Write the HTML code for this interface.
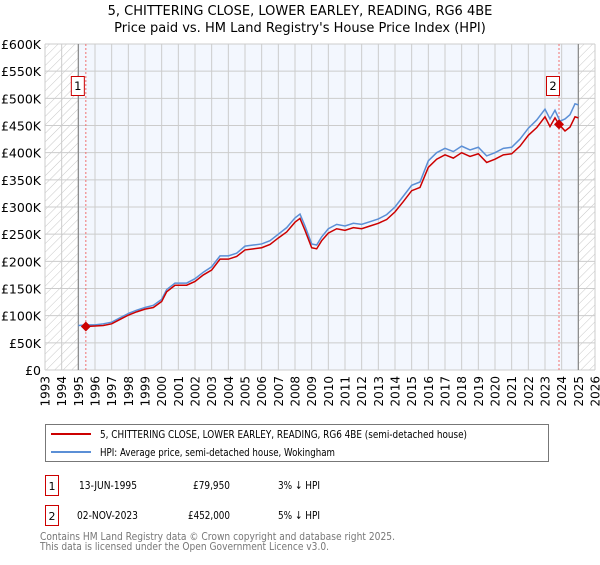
<!DOCTYPE html>
<html><head><meta charset="utf-8"><style>
body{margin:0;background:#fff;font-family:"Liberation Sans","DejaVu Sans",sans-serif;}
svg text{font-family:"DejaVu Sans","Liberation Sans",sans-serif;}
</style></head><body>
<svg id="c" width="600" height="560" xmlns="http://www.w3.org/2000/svg">
<defs><pattern id="hatch" width="6" height="6" patternUnits="userSpaceOnUse" patternTransform="rotate(45)"><line x1="0" y1="0" x2="0" y2="6" stroke="#c8c8c8" stroke-width="1"/></pattern></defs>
<text x="300" y="15" text-anchor="middle" font-size="13">5, CHITTERING CLOSE, LOWER EARLEY, READING, RG6 4BE</text>
<text x="300" y="32" text-anchor="middle" font-size="13">Price paid vs. HM Land Registry's House Price Index (HPI)</text>
<g id="plot"></g>
<g>
<rect x="45.5" y="424.5" width="503" height="37" fill="#fff" stroke="#777"/>
<line x1="51" y1="434" x2="91" y2="434" stroke="#cc0000" stroke-width="2"/>
<text x="100" y="438" font-size="11" textLength="367" lengthAdjust="spacingAndGlyphs">5, CHITTERING CLOSE, LOWER EARLEY, READING, RG6 4BE (semi-detached house)</text>
<line x1="51" y1="452" x2="91" y2="452" stroke="#5b8fd6" stroke-width="2"/>
<text x="100" y="456" font-size="11" textLength="235" lengthAdjust="spacingAndGlyphs">HPI: Average price, semi-detached house, Wokingham</text>
</g>
<g font-size="11">
<rect x="45.5" y="475.5" width="13" height="20" fill="#fff" stroke="#cc0000"/><text x="52" y="490" text-anchor="middle">1</text>
<text x="79" y="489" textLength="58" lengthAdjust="spacingAndGlyphs">13-JUN-1995</text><text x="193" y="489" textLength="37" lengthAdjust="spacingAndGlyphs">£79,950</text><text x="278" y="489" textLength="42" lengthAdjust="spacingAndGlyphs">3% ↓ HPI</text>
<rect x="45.5" y="505.5" width="13" height="20" fill="#fff" stroke="#cc0000"/><text x="52" y="520" text-anchor="middle">2</text>
<text x="77" y="519" textLength="61" lengthAdjust="spacingAndGlyphs">02-NOV-2023</text><text x="188" y="519" textLength="42" lengthAdjust="spacingAndGlyphs">£452,000</text><text x="278" y="519" textLength="42" lengthAdjust="spacingAndGlyphs">5% ↓ HPI</text>
</g>
<text x="40" y="540" font-size="11" fill="#777" textLength="355" lengthAdjust="spacingAndGlyphs">Contains HM Land Registry data © Crown copyright and database right 2025.</text>
<text x="40" y="550" font-size="11" fill="#777" textLength="289" lengthAdjust="spacingAndGlyphs">This data is licensed under the Open Government Licence v3.0.</text>
</svg>
<script>
const yearTicks=[1993,1994,1995,1996,1997,1998,1999,2000,2001,2002,2003,2004,2005,2006,2007,2008,2009,2010,2011,2012,2013,2014,2015,2016,2017,2018,2019,2020,2021,2022,2023,2024,2025,2026];
const priceTicks=[0,50,100,150,200,250,300,350,400,450,500,550,600];
const priceTickLabels=["£0","£50K","£100K","£150K","£200K","£250K","£300K","£350K","£400K","£450K","£500K","£550K","£600K"];
const hpiDates=[1995.0,1995.5,1996,1996.5,1997,1997.5,1998,1998.5,1999,1999.5,2000,2000.3,2000.8,2001.5,2002,2002.5,2003,2003.5,2004,2004.5,2005,2005.5,2006,2006.5,2007,2007.5,2008,2008.3,2008.6,2009,2009.3,2009.6,2010,2010.5,2011,2011.5,2012,2012.5,2013,2013.5,2014,2014.5,2015,2015.5,2016,2016.5,2017,2017.5,2018,2018.5,2019,2019.5,2020,2020.5,2021,2021.5,2022,2022.5,2023,2023.3,2023.6,2023.9,2024.2,2024.5,2024.8,2025.0];
const hpiValues=[82,83,83,85,88,96,104,110,115,119,130,148,160,160,168,180,190,210,210,215,228,230,232,238,250,262,280,287,265,232,230,245,260,268,265,270,268,273,278,286,300,320,340,346,385,400,408,402,412,405,410,394,400,408,410,425,445,460,480,462,478,458,462,470,490,488];
const priceDates=[1995.45,1996,1996.5,1997,1997.5,1998,1998.5,1999,1999.5,2000,2000.3,2000.8,2001.5,2002,2002.5,2003,2003.5,2004,2004.5,2005,2005.5,2006,2006.5,2007,2007.5,2008,2008.3,2008.6,2009,2009.3,2009.6,2010,2010.5,2011,2011.5,2012,2012.5,2013,2013.5,2014,2014.5,2015,2015.5,2016,2016.5,2017,2017.5,2018,2018.5,2019,2019.5,2020,2020.5,2021,2021.5,2022,2022.5,2023,2023.3,2023.6,2023.84,2024.2,2024.5,2024.8,2025.0];
const priceValues=[80,81,82,85,93,101,107,112,115,126,144,156,156,163,175,184,204,204,209,221,223,225,231,243,254,272,279,257,225,223,238,252,260,257,262,260,265,270,277,291,310,330,336,373,388,396,390,400,393,398,382,388,396,398,412,432,446,466,448,464,452,440,447,466,464];
const saleDates=[1995.45,2023.84];
const saleValues=[79.95,452];
const saleLabels=["1","2"];

const NS="http://www.w3.org/2000/svg";
const X0=45,X1=595,Y0=370,Y1=44;
const xs=d=>X0+(d-1993)/(2026-1993)*(X1-X0);
const ys=v=>Y0-v/600*(Y0-Y1);
const g=document.getElementById('plot');
function mk(t,a){const e=document.createElementNS(NS,t);for(const k in a)e.setAttribute(k,a[k]);g.appendChild(e);return e;}
let e=mk('rect',{x:X0,y:Y1,width:X1-X0,height:Y0-Y1,fill:'#f3f7fe'});


e=mk('rect',{x:X0,y:Y1,width:xs(1995)-X0,height:Y0-Y1,fill:'#fff'});


mk('rect',{x:X0,y:Y1,width:xs(1995)-X0,height:Y0-Y1,fill:'url(#hatch)'});
e=mk('rect',{x:xs(2025),y:Y1,width:X1-xs(2025),height:Y0-Y1,fill:'#fff'});


mk('rect',{x:xs(2025),y:Y1,width:X1-xs(2025),height:Y0-Y1,fill:'url(#hatch)'});
yearTicks.forEach(y=>{
  const l=mk('line',{x1:xs(y),x2:xs(y),y1:Y1,y2:Y0,stroke:'#cccccc','stroke-width':1});
  
  
  const t=mk('text',{x:0,y:0,'font-size':12,'text-anchor':'end',transform:`translate(${xs(y)+4.5},${Y0+6}) rotate(-90)`});
  t.textContent=y;
  
  
});
priceTicks.forEach((v,i)=>{
  const l=mk('line',{x1:X0,x2:X1,y1:ys(v),y2:ys(v),stroke:'#cccccc','stroke-width':1});
  
  
  const t=mk('text',{x:41,y:ys(v)+5,'font-size':12.5,'text-anchor':'end'});
  t.textContent=priceTickLabels[i];
  
  
});
[1995,2025].forEach(y=>{mk('line',{x1:xs(y),x2:xs(y),y1:Y1,y2:Y0,stroke:'#888','stroke-width':1.2});});
saleDates.forEach((d,i)=>{
  const l=mk('line',{x1:xs(d),x2:xs(d),y1:Y1,y2:Y0,stroke:'#f07070','stroke-width':1,'stroke-dasharray':'2,2'});
  
  
});
const hp=mk('polyline',{points:hpiDates.map((d,i)=>xs(d)+','+ys(hpiValues[i])).join(' '),fill:'none',stroke:'#5b8fd6','stroke-width':1.5});


const pp=mk('polyline',{points:priceDates.map((d,i)=>xs(d)+','+ys(priceValues[i])).join(' '),fill:'none',stroke:'#cc0000','stroke-width':1.5});


saleDates.forEach((d,i)=>{
  const x=xs(d),y=ys(saleValues[i]);
  const m=mk('polygon',{points:`${x},${y-5} ${x+5},${y} ${x},${y+5} ${x-5},${y}`,fill:'#cc0000'});
  
  
  const bx=x-(i==0?8:6)-7;
  const b=mk('rect',{x:bx+0.5,y:76.5,width:13,height:19,fill:'#fff',stroke:'#cc0000'});
  
  
  const t=mk('text',{x:bx+7,y:90,'font-size':11.5,'text-anchor':'middle'});
  t.textContent=saleLabels[i];
  
  
});
</script>
</body></html>
